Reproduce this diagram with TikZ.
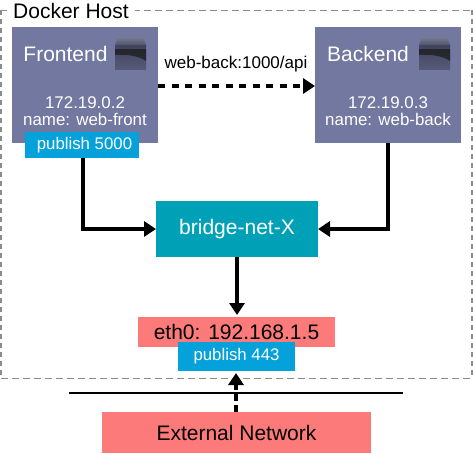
\documentclass[tikz,border=0pt]{standalone}
\usepackage{fontspec}
\setmainfont{Liberation Sans}
\usetikzlibrary{arrows.meta,positioning}
\definecolor{slatebox}{RGB}{114,120,160}
\definecolor{pubblue}{RGB}{5,161,219}
\definecolor{bridgeteal}{RGB}{0,161,182}
\definecolor{salmon}{RGB}{252,122,122}
\definecolor{hostgray}{RGB}{140,140,140}
\tikzset{
  x=1pt,y=-1pt,
  box/.style={anchor=north west,inner sep=0pt,outer sep=0pt},
  hostbox/.style={box,fill=slatebox,minimum width=146pt,minimum height=116pt},
  pubbox/.style={box,fill=pubblue,text=white,font=\fontsize{16.8}{16.8}\selectfont},
  redbox/.style={box,fill=salmon,text=black},
  boxtitle/.style={text=white,font=\fontsize{21}{21}\selectfont,inner sep=0pt},
  boxinfo/.style={text=white,align=center,font=\fontsize{16.9}{17.5}\selectfont,inner sep=0pt},
  link/.style={line width=4pt,-{Triangle[length=12pt,width=15pt]}},
  dashlink/.style={link,dash pattern=on 7pt off 6.5pt},
  hostline/.style={hostgray,line width=0.8pt,dash pattern=on 7pt off 4pt},
  hostside/.style={hostgray,line width=2pt,dash pattern=on 5pt off 4pt}
}
\newcommand{\cubeicon}[2]{%
  \shade[bottom color=slatebox!75!black,middle color=black!92,top color=slatebox!55!black] (#1,#2+8) rectangle (#1+31,#2+32);
  \fill[black!90,opacity=.7] (#1,#2+18) .. controls (#1+12,#2+17) and (#1+24,#2+19) .. (#1+31,#2+24) -- (#1+31,#2+12) -- (#1,#2+12) -- cycle;
  \shade[top color=slatebox!55!gray,bottom color=slatebox!70!black] (#1+3,#2) -- (#1+28,#2) -- (#1+31,#2+8) -- (#1,#2+8) -- cycle;
}
\begin{document}
\begin{tikzpicture}
\useasboundingbox (0,0) rectangle (473,453);
% host frame
\coordinate (tl) at (1,10);
\coordinate (tr) at (472,10);
\coordinate (bl) at (1,378);
\coordinate (br) at (472,378);
\draw[hostline] (tl) -- (tr);
\draw[hostline] (bl) -- (br);
\draw[hostside] (tl) -- (bl);
\draw[hostside] (tr) -- (br);
\node[fill=white,inner sep=0pt,minimum width=128pt,minimum height=20pt,font=\fontsize{21}{21}\selectfont] (hostlabel) at (71,10.5) {Docker Host};
% boxes
\node[hostbox] (front) at (12,27) {};
\node[hostbox] (back) at (315,27) {};
\node[box,fill=bridgeteal,text=white,minimum width=162pt,minimum height=56pt,font=\fontsize{21}{21}\selectfont] (bridge) at (156,201) {bridge-net-X};
\node[redbox,minimum width=197pt,minimum height=30pt,font=\fontsize{21}{21}\selectfont] (eth) at (138,317) {eth0: 192.168.1.5};
\node[redbox,minimum width=269pt,minimum height=41pt,font=\fontsize{21}{21}\selectfont] (ext) at (102,412) {External Network};
\node[pubbox,minimum width=114pt,minimum height=26pt] (pub5000) at (25,132) {\hspace*{5pt}publish 5000};
\node[pubbox,minimum width=117pt,minimum height=29pt] (pub443) at (178,342) {publish 443};
% box contents
\node[boxtitle] (ftitle) at (65.5,54) {Frontend};
\node[boxtitle] (btitle) at (368,54) {Backend};
\node[boxinfo] (finfo) at (85,111) {172.19.0.2\\name: web-front};
\node[boxinfo] (binfo) at (388,111) {172.19.0.3\\name: web-back};
\cubeicon{115}{37}
\cubeicon{419}{37}
% connector label
\node[inner sep=0pt,font=\fontsize{17}{17}\selectfont] (apilabel) at (236,64) {web-back:1000/api};
% ext line
\coordinate (lineL) at (69,393);
\coordinate (lineR) at (403,393);
\draw[line width=1.8pt] (lineL) -- (lineR);
% connectors
\draw[dashlink] (front.east |- 0,86) -- (back.west |- 0,86);
\draw[link] (pub5000.south -| 83,0) -- (83,229) -- (bridge.west |- 0,229);
\draw[link] (back.south -| 388,0) -- (388,229) -- (bridge.east |- 0,229);
\draw[link] (bridge.south -| 237,0) -- (237,315);
\draw[dashlink,dash pattern=on 7pt off 4pt] (ext.north -| 236,0) -- (236,373);
\end{tikzpicture}
\end{document}
